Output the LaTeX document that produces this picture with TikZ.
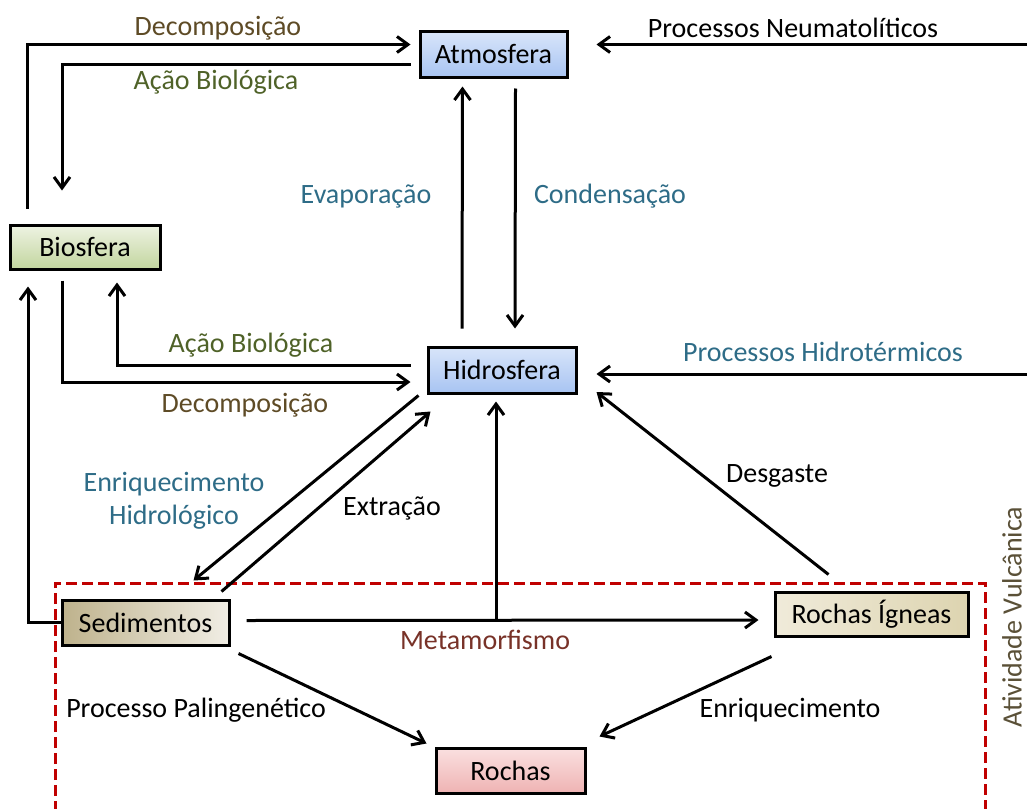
\documentclass[tikz,border=0pt]{standalone}
\usepackage{fontspec}
\setmainfont{Carlito}
\usetikzlibrary{arrows.meta,calc}
\definecolor{cdec}{RGB}{94,75,38}
\definecolor{cbio}{RGB}{79,98,40}
\definecolor{cteal}{RGB}{46,108,135}
\definecolor{cmeta}{RGB}{120,50,40}
\definecolor{cvul}{RGB}{90,80,55}
\definecolor{cred}{RGB}{192,0,0}
\tikzset{
  box/.style={draw=black, line width=3pt, inner sep=0pt, text=black},
  lbl/.style={inner sep=0pt},
  arr/.style={draw=black, line width=3pt, -{Straight Barb[length=11pt,width=16pt,line width=3pt]}},
}
\begin{document}
\begin{tikzpicture}[x=1pt,y=-1pt,font=\fontsize{28}{33}\selectfont]
\useasboundingbox (0,0) rectangle (1027,808);
% dashed region
\draw[cred, line width=3pt, dash pattern=on 11pt off 5pt] (55,812) -- (55,583) -- (985,583) -- (985,812);
% nodes
\node[box, minimum width=147pt, minimum height=45pt, top color={rgb,255:red,216;green,229;blue,250}, bottom color={rgb,255:red,168;green,196;blue,242}] (atm) at (493.5,54.5) {Atmosfera};
\node[box, minimum width=150pt, minimum height=44pt, top color={rgb,255:red,238;green,243;blue,227}, bottom color={rgb,255:red,194;green,213;blue,158}] (bio) at (85,247) {Biosfera};
\node[box, minimum width=148pt, minimum height=46pt, top color={rgb,255:red,216;green,229;blue,250}, bottom color={rgb,255:red,168;green,196;blue,242}] (hid) at (502,370) {Hidrosfera};
\node[box, minimum width=167pt, minimum height=45pt, left color={rgb,255:red,190;green,178;blue,140}, right color={rgb,255:red,241;green,238;blue,229}] (sed) at (145.5,622.5) {Sedimentos};
\node[box, minimum width=193pt, minimum height=44pt, left color={rgb,255:red,240;green,235;blue,218}, right color={rgb,255:red,221;green,212;blue,176}] (ign) at (871.5,614) {Rochas Ígneas};
\node[box, minimum width=149pt, minimum height=45pt, top color={rgb,255:red,250;green,224;blue,224}, bottom color={rgb,255:red,239;green,179;blue,179}] (roc) at (510.5,770.5) {Rochas};
% free ends
\coordinate (neu) at (1027,44.5);
\coordinate (hter) at (1027,374);
% connectors
\draw[arr] ($(bio.north)+(-58,-15)$) |- ($(atm.west)+(-8,-10)$);
\draw[arr] ($(atm.west)+(-8,10)$) -| ($(bio.north)+(-23,-33)$);
\draw[arr] (neu) -- ($(atm.east)+(28,-10)$);
\draw[arr] ($(hid.north)+(-40,-17)$) -- ($(atm.south)+(-31,8)$);
\draw[arr] ($(atm.south)+(22,10)$) -- ($(hid.north)+(13,-17)$);
\draw[arr] ($(hid.west)+(-16,-5)$) -| ($(bio.south)+(32,12)$);
\draw[arr] ($(bio.south)+(-23,10)$) |- ($(hid.west)+(-16,12)$);
\draw[arr] (hter) -- ($(hid.east)+(19,4)$);
\draw[arr] ($(hid.south west)+(-8,1)$) -- ($(sed.north)+(48,-18)$);
\draw[arr] ($(sed.north)+(76,-7)$) -- ($(hid.south west)+(4,17)$);
\draw[arr] ($(sed.east)+(16,-2)$) coordinate (m0) -- ($(ign.west)+(-15,6)$);
\draw[arr] ($(m0 -| hid.south)+(-6,0)$) -- ($(hid.south)+(-6,7)$);
\draw[arr] ($(ign.north)+(-43,-16)$) -- ($(hid.east)+(19,22)$);
\draw[arr] ($(sed.south east)+(8,7)$) -- ($(roc.north west)+(-8,-3)$);
\draw[arr] ($(ign.south west)+(-2,19)$) -- ($(roc.north east)+(13,-10)$);
\draw[arr] (sed.west) -| ($(bio.south)+(-57,16)$);
% labels
\node[lbl, text=cdec] (l1) at (218,28) {Decomposição};
\node[lbl, text=cbio] (l2) at (216,82) {Ação Biológica};
\node[lbl] (l3) at (793,28) {Processos Neumatolíticos};
\node[lbl, text=cteal] (l4) at (366,196) {Evaporação};
\node[lbl, text=cteal] (l5) at (610,196) {Condensação};
\node[lbl, text=cbio] (l6) at (251,345) {Ação Biológica};
\node[lbl, text=cdec] (l7) at (245,405) {Decomposição};
\node[lbl, text=cteal] (l8) at (823,352) {Processos Hidrotérmicos};
\node[lbl, text=cteal, align=center] (l9) at (174,501) {Enriquecimento\\Hidrológico};
\node[lbl] (l10) at (392,508) {Extração};
\node[lbl] (l11) at (777,476) {Desgaste};
\node[lbl, text=cmeta] (l12) at (485,640) {Metamorfismo};
\node[lbl] (l13) at (196,710) {Processo Palingenético};
\node[lbl] (l14) at (790,710) {Enriquecimento};
\node[lbl, text=cvul, rotate=90] (l15) at (1012,617) {Atividade Vulcânica};
\end{tikzpicture}
\end{document}
